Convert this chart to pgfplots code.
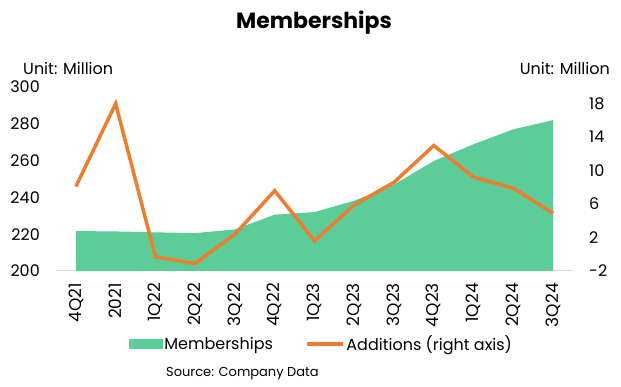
\documentclass[border=0pt]{standalone}
\usepackage{fontspec}
\setmainfont{Poppins}
\usepackage{pgfplots}
\pgfplotsset{compat=1.18}
\definecolor{memgreen}{RGB}{92,204,153}
\definecolor{addorange}{RGB}{237,125,49}
\definecolor{basegray}{RGB}{217,217,217}
\begin{document}
\begin{tikzpicture}[x=1pt,y=1pt]
\useasboundingbox (0,0) rectangle (621,387);
\pgfplotsset{
  every axis/.append style={
    scale only axis, width=517pt, height=184pt,
    anchor=south west, at={(56pt,116pt)},
    xmin=-0.5, xmax=12.5,
    /pgf/number format/assume math mode=true,
    tick label style={font=\fontsize{16}{16}\selectfont},
    clip=true,
  }
}
\begin{axis}[
  ymin=200, ymax=300, ytick={200,220,...,300},
  axis x line*=bottom, axis y line*=left,
  x axis line style={draw=basegray, line width=1pt, -},
  y axis line style={draw=none},
  xtick={0,...,12},
  xticklabels={4Q21,2021,1Q22,2Q22,3Q22,4Q22,1Q23,2Q23,3Q23,4Q23,1Q24,2Q24,3Q24},
  xticklabel style={rotate=90, anchor=east, inner sep=0pt, font=\fontsize{17}{17}\selectfont},
  xticklabel shift=12pt,
  yticklabel style={anchor=east, inner sep=0pt},
  yticklabel shift=16pt,
  major tick style={draw=none},
]
\addplot[fill=memgreen, draw=none] coordinates {
 (0,221.7) (1,221.5) (2,221.0) (3,220.6) (4,222.6) (5,230.6) (6,232.0)
 (7,238.2) (8,247.0) (9,259.8) (10,268.9) (11,277.0) (12,282.0)
} \closedcycle;
\end{axis}
\begin{axis}[
  ymin=-2, ymax=20, ytick={-2,2,...,18},
  axis x line=none, axis y line*=right,
  y axis line style={draw=none},
  yticklabel style={anchor=west, inner sep=0pt},
  yticklabel shift=16pt,
  major tick style={draw=none},
  legend columns=2,
  legend style={draw=none, fill=none, at={(0.5135,-0.397)}, anchor=center,
    font=\fontsize{16}{16}\selectfont,
    /tikz/every even column/.append style={column sep=30pt},
    nodes={inner sep=2pt}},
]
\addlegendimage{legend image code/.code={\fill[memgreen] (0pt,-4.5pt) rectangle (33pt,4.5pt);}}
\addlegendentry{Memberships}
\addplot[addorange, line width=3.5pt, line join=miter,
  legend image code/.code={\draw[addorange, line width=3.5pt] (0pt,0pt) -- (36pt,0pt);}] coordinates {
 (0,8.1) (1,18.0) (2,-0.3) (3,-1.1) (4,2.4) (5,7.6) (6,1.6)
 (7,5.9) (8,8.6) (9,13.0) (10,9.2) (11,7.9) (12,4.9)
};
\addlegendentry{Additions (right axis)}
\end{axis}
\node[anchor=center, font=\fontsize{22}{22}\selectfont\bfseries, inner sep=0pt] at (314,364) {Memberships};
\node[anchor=west, font=\fontsize{16}{16}\selectfont, inner sep=0pt] at (23,319) {Unit: Million};
\node[anchor=east, font=\fontsize{16}{16}\selectfont, inner sep=0pt] at (610,319) {Unit: Million};
\node[anchor=west, font=\fontsize{13}{13}\selectfont, inner sep=0pt] at (166,13) {Source: Company Data};
\end{tikzpicture}
\end{document}
